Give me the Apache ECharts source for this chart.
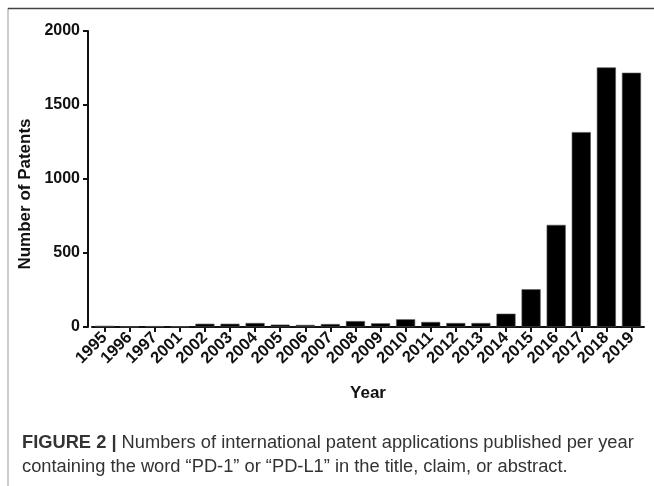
<!DOCTYPE html>
<html>
<head>
<meta charset="utf-8">
<script src="https://cdn.jsdelivr.net/npm/echarts@6/dist/echarts.min.js"></script>
<style>html,body{margin:0;padding:0;background:#fff;}#c{width:654px;height:486px;}</style>
</head>
<body>
<div id="c"></div>
<script>
var years = ['1995','1996','1997','2001','2002','2003','2004','2005','2006','2007','2008','2009','2010','2011','2012','2013','2014','2015','2016','2017','2018','2019'];
var patents = [8, 2, 6, 3, 22, 22, 27, 16, 14, 20, 40, 25, 52, 34, 27, 27, 90, 255, 690, 1317, 1754, 1718];
var yTicks = [0, 500, 1000, 1500, 2000];
var captionBold = 'FIGURE 2 |';
var captionLine1 = ' Numbers of international patent applications published per year';
var captionLine2 = 'containing the word \u201cPD-1\u201d or \u201cPD-L1\u201d in the title, claim, or abstract.';

var chart = echarts.init(document.getElementById('c'), null, {renderer: 'canvas'});
var F = 'Liberation Sans, Arial, Helvetica, sans-serif';
chart.setOption({
  animation: false,
  backgroundColor: '#fff',
  grid: {left: 92, right: 10, top: 31, bottom: 159},
  xAxis: {
    type: 'category',
    data: years,
    name: 'Year',
    nameLocation: 'middle',
    nameGap: 58,
    nameTextStyle: {fontFamily: F, fontWeight: 'bold', fontSize: 17, color: '#111'},
    axisLine: {lineStyle: {color: '#111', width: 2}},
    axisTick: {show: true, alignWithLabel: true, length: 5, lineStyle: {color: '#111', width: 2}},
    axisLabel: {interval: 0, rotate: 45, fontFamily: F, fontWeight: 'bold', fontSize: 16.5, color: '#111', margin: 8}
  },
  yAxis: {
    type: 'value',
    min: yTicks[0],
    max: yTicks[yTicks.length - 1],
    interval: yTicks[1] - yTicks[0],
    offset: 4,
    name: 'Number of Patents',
    nameLocation: 'middle',
    nameGap: 53,
    nameTextStyle: {fontFamily: F, fontWeight: 'bold', fontSize: 17, color: '#111', padding: [0, 30, 0, 0]},
    axisLine: {show: true, lineStyle: {color: '#111', width: 2}},
    axisTick: {show: true, length: 5, lineStyle: {color: '#111', width: 2}},
    axisLabel: {fontFamily: F, fontWeight: 'bold', fontSize: 16, color: '#111', margin: 8,
      formatter: function (v) { return String(v); }},
    splitLine: {show: false}
  },
  series: [{
    type: 'bar',
    data: patents,
    barWidth: '76%',
    itemStyle: {color: '#000', borderColor: '#555', borderWidth: 0.6}
  }],
  graphic: [
    {type: 'line', shape: {x1: 8, y1: 8, x2: 8, y2: 486}, style: {stroke: '#999', lineWidth: 1}},
    {type: 'line', shape: {x1: 8, y1: 8.5, x2: 654, y2: 8.5}, style: {stroke: '#444', lineWidth: 1.5}},
    {type: 'text', left: 22, top: 434, style: {
      text: '{b|' + captionBold + '}{r|' + captionLine1 + '}\n{r|' + captionLine2 + '}',
      rich: {
        b: {fontFamily: F, fontWeight: 'bold', fontSize: 18.3, fill: '#333', lineHeight: 24},
        r: {fontFamily: F, fontSize: 18.3, fill: '#333', lineHeight: 24}
      }
    }}
  ]
});
</script>
</body>
</html>
